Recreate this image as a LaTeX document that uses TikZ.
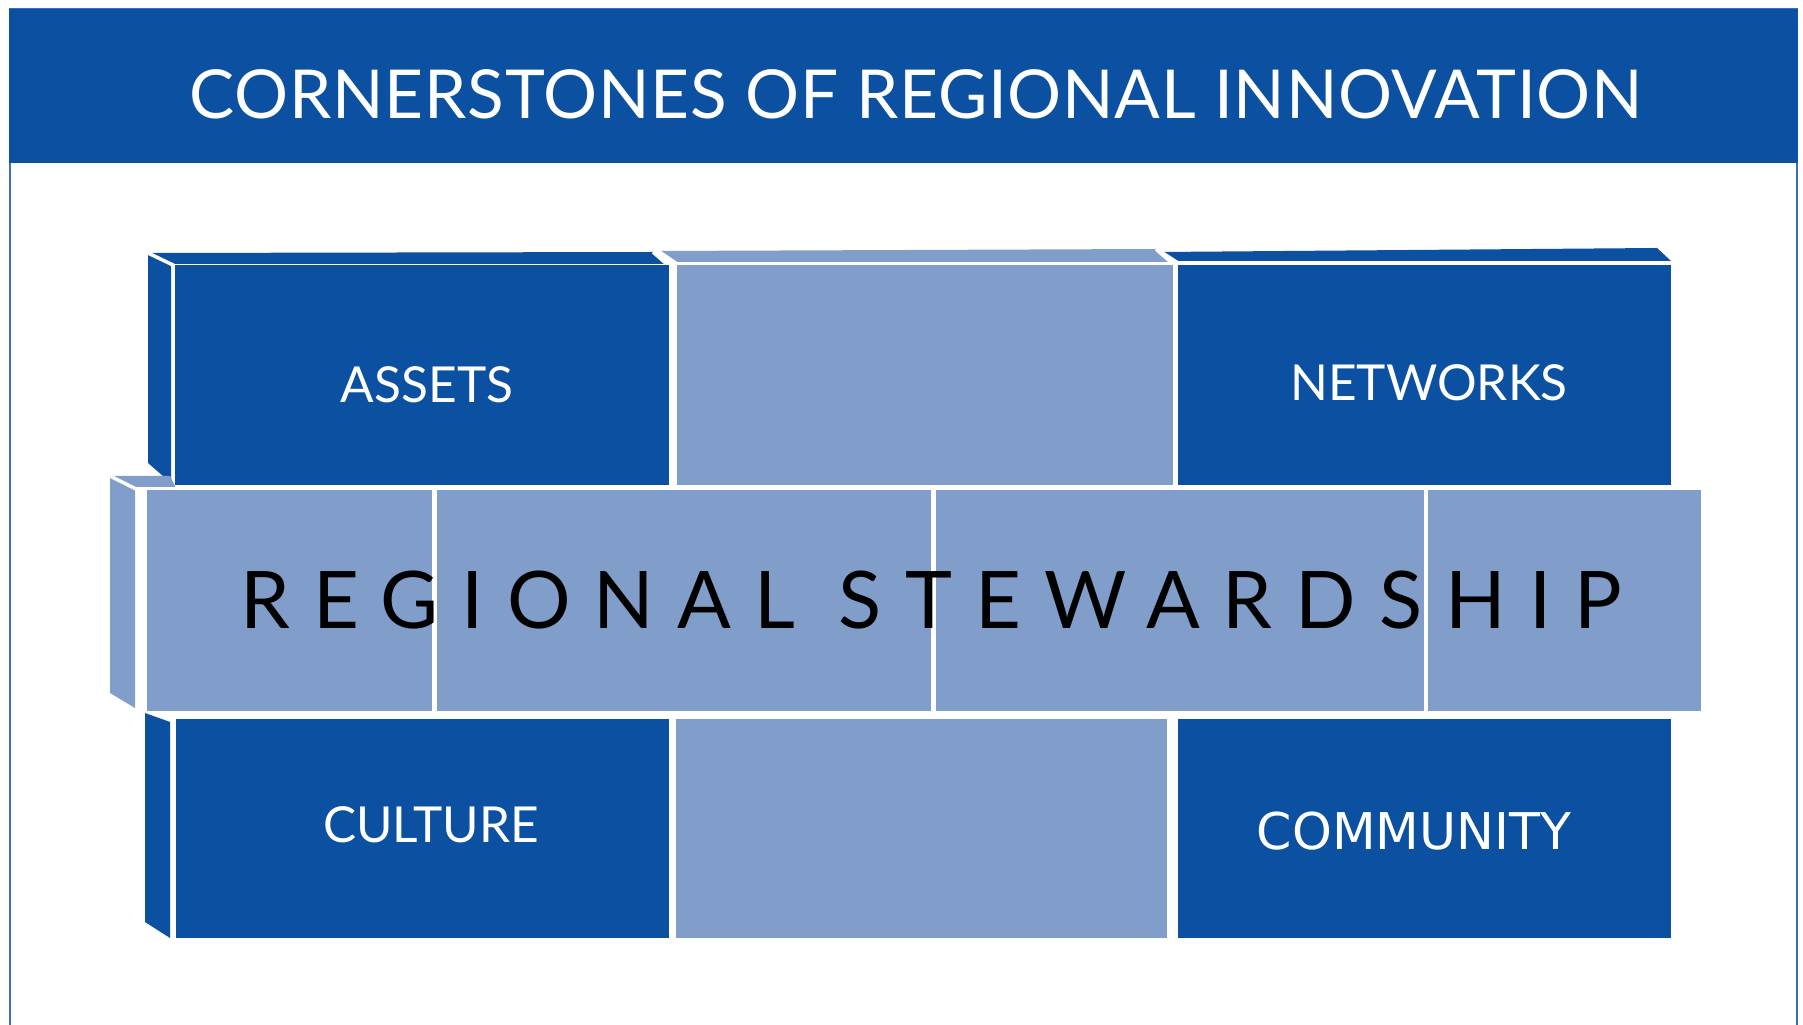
\documentclass[tikz,border=0pt]{standalone}
\usepackage{fontspec}
\setmainfont{Lato}
\newfontfamily\tahfont{DejaVu Sans}
\usetikzlibrary{positioning}
\definecolor{darkblue}{RGB}{12,81,161}
\definecolor{lightblue}{RGB}{129,157,201}
\definecolor{framecol}{RGB}{60,110,185}

\begin{document}
\begin{tikzpicture}[x=0.01cm, y=-0.01cm, inner sep=0pt, outer sep=0pt,
      brick/.style={fill=darkblue, minimum height=2.2cm},
      pale/.style={fill=lightblue, minimum height=2.2cm},
      word/.style={text=white, font=\fontsize{14.1}{16}\selectfont}]
      \useasboundingbox (0,0) rectangle (1803,1025);
      \fill[white] (0,0) rectangle (1803,1025);
      % frame and title bar
      \draw[framecol, line width=0.6pt] (10,1040) -- (10,9) -- (1797,9) -- (1797,1040);
      \node[fill=darkblue, minimum width=17.87cm, minimum height=1.54cm] (titlebar) at (903.5,86) {};
      \node[text=white, font=\fontsize{19.2}{22}\selectfont\addfontfeature{LetterSpace=1.1}] (title) at (916,94) {CORNERSTONES OF REGIONAL INNOVATION};
      % top row
      \fill[darkblue] (148,253) -- (653,252) -- (669,265) -- (175,265) -- cycle;
      \fill[darkblue] (148,253) -- (171,265) -- (171,483) -- (148,463) -- cycle;
      \fill[lightblue] (658,251) -- (1156,249) -- (1173,263) -- (677,263) -- cycle;
      \fill[darkblue] (1161,252) -- (1657,248) -- (1671,261) -- (1178,262) -- cycle;
      \draw[white, line width=1pt] (148,253) -- (175,266) -- (669,266) -- (653,252);
      \draw[white, line width=1pt] (658,251) -- (677,264) -- (1173,264) -- (1156,249);
      \draw[white, line width=1pt] (1161,252) -- (1178,263) -- (1671,263);
      \node[brick, minimum width=4.94cm] (assets) at (422,375) {};
      \node[pale, minimum width=4.96cm] (topmid) at (925,375) {};
      \node[brick, minimum width=4.93cm] (networks) at (1424.5,375) {};
      \node[word] (assetstext) at (427,385) {ASSETS};
      \node[word] (networkstext) at (1429,383) {NETWORKS};
      % middle band
      \fill[lightblue] (110,476) -- (170,476) -- (176,488) -- (135,488) -- cycle;
      \fill[lightblue] (110,476) -- (135,489) -- (135,708) -- (110,693) -- cycle;
      \draw[white, line width=1pt] (110,476) -- (136,489) -- (176,489);
      \node[pale, minimum width=2.85cm, minimum height=2.21cm] (band1) at (289.5,600.5) {};
      \node[pale, minimum width=4.94cm, minimum height=2.21cm] (band2) at (684,600.5) {};
      \node[pale, minimum width=4.88cm, minimum height=2.21cm] (band3) at (1180,600.5) {};
      \node[pale, minimum width=2.73cm, minimum height=2.21cm] (band4) at (1564.5,600.5) {};
      \node[font=\fontsize{22.6}{26}\selectfont\addfontfeature{LetterSpace=29}] (stewardship) at (931,600) {REGIONAL STEWARDSHIP};
      % bottom row
      \fill[darkblue] (145,713) -- (170,722) -- (170,938) -- (145,922) -- cycle;
      \node[brick, minimum width=4.93cm, minimum height=2.19cm] (culture) at (422.5,828.5) {};
      \node[pale, minimum width=4.91cm, minimum height=2.19cm] (botmid) at (921.5,828.5) {};
      \node[brick, minimum width=4.93cm, minimum height=2.19cm] (community) at (1424.5,828.5) {};
      \node[word] (culturetext) at (431,825) {CULTURE};
      \node[word, font=\tahfont\fontsize{14.4}{16}\selectfont] (communitytext) at (1414,831) {COMMUNITY};
  \end{tikzpicture}
\end{document}
